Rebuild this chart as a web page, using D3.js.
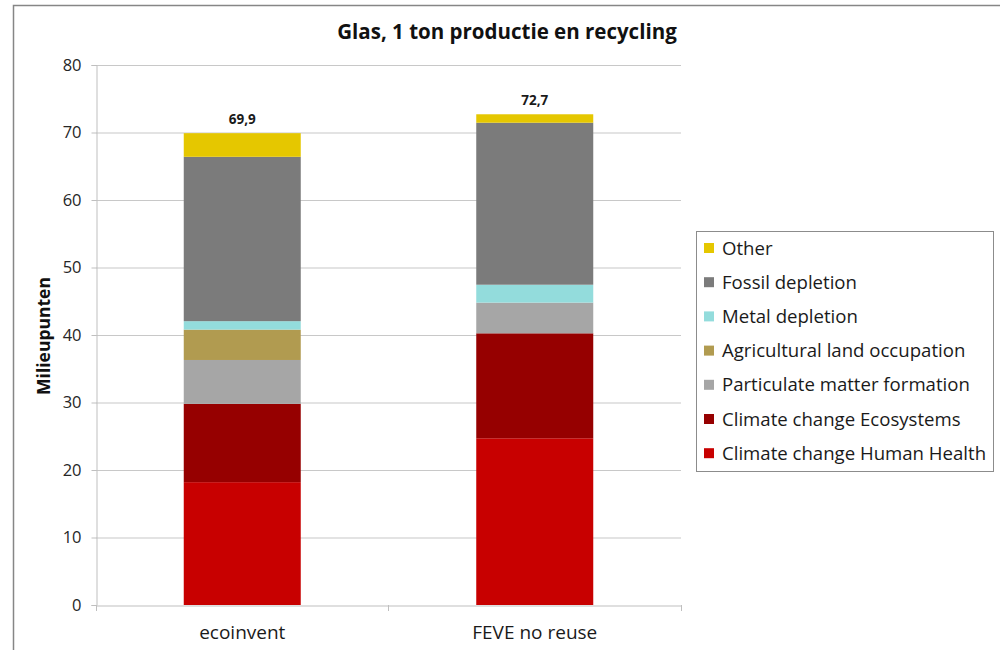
<!DOCTYPE html>
<html>
<head>
<meta charset="utf-8">
<script src="https://cdn.jsdelivr.net/npm/d3@7"></script>
<style>
  body { margin: 0; background: #fff; }
  text { font-family: "Open Sans", sans-serif; }
</style>
</head>
<body>
<svg id="chart" width="1000" height="650"></svg>
<script>
// data
var categories = ["ecoinvent", "FEVE no reuse"];
var seriesNames = [
  "Climate change Human Health",
  "Climate change Ecosystems",
  "Particulate matter formation",
  "Agricultural land occupation",
  "Metal depletion",
  "Fossil depletion",
  "Other"
];
var seriesColors = ["#c80000", "#960000", "#a6a6a6", "#b19b50", "#93dcdc", "#7b7b7b", "#e5c700"];
var humanHealth = [18.2, 24.7];
var ecosystems = [11.6, 15.55];
var particulate = [6.5, 4.55];
var agricultural = [4.5, 0];
var metal = [1.25, 2.65];
var fossil = [24.35, 24.0];
var other = [3.5, 1.25];
var totalLabels = ["69,9", "72,7"];
var yTicks = [0, 10, 20, 30, 40, 50, 60, 70, 80];

var seriesValues = [humanHealth, ecosystems, particulate, agricultural, metal, fossil, other];

var rows = categories.map(function (c, i) {
  var r = { cat: c };
  seriesNames.forEach(function (s, j) { r[s] = seriesValues[j][i]; });
  return r;
});

var svg = d3.select("#chart");

// outer frame
svg.append("rect")
  .attr("x", 13.5).attr("y", 5.5)
  .attr("width", 1000).attr("height", 700)
  .attr("fill", "none").attr("stroke", "#868686").attr("stroke-width", 1.5);

var x = d3.scaleBand().domain(categories).range([96, 681]).paddingInner(0).paddingOuter(0);
var y = d3.scaleLinear().domain([0, 80]).range([605, 65]);

// gridlines
svg.append("g").selectAll("line").data(yTicks.slice(1)).enter().append("line")
  .attr("x1", 96).attr("x2", 681)
  .attr("y1", function (d) { return y(d) + 0.5; })
  .attr("y2", function (d) { return y(d) + 0.5; })
  .attr("stroke", "#c8c8c8").attr("stroke-width", 1.2);

// stacked bars
var stack = d3.stack().keys(seriesNames);
var layers = stack(rows);
var barW = x.bandwidth() * 0.4;

svg.append("g").selectAll("g").data(layers).enter().append("g")
  .attr("fill", function (d, i) { return seriesColors[i]; })
  .selectAll("rect").data(function (d) { return d; }).enter().append("rect")
  .attr("x", function (d) { return x(d.data.cat) + (x.bandwidth() - barW) / 2; })
  .attr("width", barW)
  .attr("y", function (d) { return y(d[1]); })
  .attr("height", function (d) { return y(d[0]) - y(d[1]); });

// y axis
var yAxis = svg.append("g").attr("transform", "translate(96.5,0)")
  .call(d3.axisLeft(y).tickValues(yTicks).tickSize(5).tickPadding(10));
yAxis.select(".domain").attr("stroke", "#bfbfbf");
yAxis.selectAll(".tick line").attr("stroke", "#bfbfbf");
yAxis.selectAll(".tick text").attr("font-size", 16.5).attr("fill", "#262626")
  .attr("font-family", "Open Sans, sans-serif");

// x axis
var xAxis = svg.append("g").attr("transform", "translate(0,605.5)")
  .call(d3.axisBottom(x).tickSize(0).tickPadding(20));
xAxis.select(".domain").attr("stroke", "#bfbfbf").attr("stroke-width", 1.2);
xAxis.selectAll(".tick text").attr("font-size", 19).attr("fill", "#1a1a1a")
  .attr("font-family", "Open Sans, sans-serif");
svg.append("g").selectAll("line").data([96, 388, 681]).enter().append("line")
  .attr("x1", function (d) { return d + 0.5; }).attr("x2", function (d) { return d + 0.5; })
  .attr("y1", 605).attr("y2", 611).attr("stroke", "#bfbfbf");

// total labels
svg.append("g").selectAll("text").data(rows).enter().append("text")
  .attr("x", function (d) { return x(d.cat) + x.bandwidth() / 2; })
  .attr("y", function (d, i) {
    return y(d3.sum(seriesValues, function (s) { return s[i]; })) - 9;
  })
  .attr("text-anchor", "middle")
  .attr("font-size", 13.5).attr("font-weight", "bold").attr("fill", "#1a1a1a")
  .text(function (d, i) { return totalLabels[i]; });

// title
svg.append("text")
  .attr("x", 507).attr("y", 39)
  .attr("text-anchor", "middle")
  .attr("font-size", 20.5).attr("font-weight", "bold").attr("fill", "#111")
  .text("Glas, 1 ton productie en recycling");

// y label
svg.append("text")
  .attr("transform", "translate(50,336) rotate(-90)")
  .attr("text-anchor", "middle")
  .attr("font-size", 17.5).attr("font-weight", "bold").attr("fill", "#111")
  .text("Milieupunten");

// legend
var legend = svg.append("g");
legend.append("rect")
  .attr("x", 696.5).attr("y", 231.5).attr("width", 297).attr("height", 240)
  .attr("fill", "#fff").attr("stroke", "#8c8c8c").attr("stroke-width", 1);

var legendOrder = seriesNames.slice().reverse();
var legendColors = seriesColors.slice().reverse();
var item = legend.selectAll("g.item").data(legendOrder).enter().append("g")
  .attr("class", "item")
  .attr("transform", function (d, i) { return "translate(704," + (248 + i * 34.2) + ")"; });
item.append("rect")
  .attr("x", 0).attr("y", -5).attr("width", 10).attr("height", 10)
  .attr("fill", function (d, i) { return legendColors[i]; });
item.append("text")
  .attr("x", 18).attr("y", 0).attr("dy", "0.35em")
  .attr("font-size", 18.6).attr("fill", "#1a1a1a")
  .text(function (d) { return d; });
</script>
</body>
</html>
